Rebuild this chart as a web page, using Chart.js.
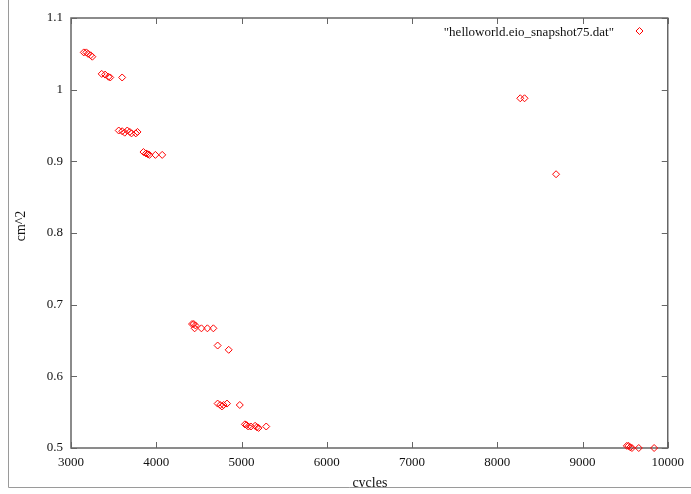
<!DOCTYPE html>
<html>
<head>
<meta charset="utf-8">
<script src="https://cdn.jsdelivr.net/npm/chart.js@4.4.0/dist/chart.umd.min.js"></script>
<style>
html, body { margin: 0; padding: 0; background: #fff; }
#wrap { width: 691px; height: 494px; }
</style>
</head>
<body>
<div id="wrap"><canvas id="chart" width="691" height="494"></canvas></div>
<script>
// Data
const seriesLabel = '"helloworld.eio_snapshot75.dat"';
const cycles = [
    3150, 3180, 3200, 3230, 3250,
    3360, 3400, 3440, 3460, 3600,
    3560, 3600, 3630, 3660, 3690, 3710, 3760, 3780,
    3850, 3880, 3900, 3920, 3990, 4070,
    4420, 4440, 4460, 4450, 4530, 4600, 4670,
    4720, 4850,
    4720, 4750, 4770, 4790, 4830, 4980,
    5040, 5060, 5080, 5110, 5160, 5180, 5200, 5290,
    8270, 8320, 8690,
    9520, 9540, 9560, 9580, 9660, 9840
];
const area = [
    1.052, 1.052, 1.050, 1.048, 1.046,
    1.022, 1.021, 1.018, 1.017, 1.017,
    0.943, 0.942, 0.940, 0.943, 0.941, 0.939, 0.939, 0.941,
    0.913, 0.911, 0.910, 0.909, 0.909, 0.909,
    0.673, 0.673, 0.671, 0.667, 0.667, 0.667, 0.667,
    0.643, 0.637,
    0.562, 0.560, 0.558, 0.560, 0.562, 0.560,
    0.533, 0.532, 0.530, 0.530, 0.531, 0.529, 0.528, 0.530,
    0.988, 0.988, 0.882,
    0.503, 0.503, 0.501, 0.500, 0.500, 0.500
];
const xTicks = [3000, 4000, 5000, 6000, 7000, 8000, 9000, 10000];
const yTicks = [0.5, 0.6, 0.7, 0.8, 0.9, 1.0, 1.1];
const xTitle = 'cycles';
const yTitle = 'cm^2';

const points = cycles.map((c, i) => ({ x: c, y: area[i] }));

const serif = '"Liberation Serif", "DejaVu Serif", serif';
const frameColor = '#666';
const markColor = '#ff0000';

// gnuplot-like frame, inward ticks, titles and legend
const gnuplotFrame = {
    id: 'gnuplotFrame',
    beforeDatasetsDraw(chart) {
        const { ctx, chartArea: a, scales } = chart;
        ctx.save();
        ctx.strokeStyle = frameColor;
        ctx.lineWidth = 1.5;
        ctx.strokeRect(a.left, a.top, a.right - a.left, a.bottom - a.top);
        ctx.lineWidth = 1;
        ctx.beginPath();
        xTicks.forEach(v => {
            const px = Math.round(scales.x.getPixelForValue(v)) + 0.5;
            ctx.moveTo(px, a.bottom); ctx.lineTo(px, a.bottom - 6);
            ctx.moveTo(px, a.top); ctx.lineTo(px, a.top + 6);
        });
        yTicks.forEach(v => {
            const py = Math.round(scales.y.getPixelForValue(v)) + 0.5;
            ctx.moveTo(a.left, py); ctx.lineTo(a.left + 6, py);
            ctx.moveTo(a.right, py); ctx.lineTo(a.right - 6, py);
        });
        ctx.stroke();
        ctx.restore();
    },
    afterDraw(chart) {
        const { ctx, chartArea: a } = chart;
        ctx.save();
        ctx.fillStyle = '#111';
        ctx.font = '14px ' + serif;
        ctx.textAlign = 'center';
        ctx.textBaseline = 'middle';
        ctx.fillText(xTitle, (a.left + a.right) / 2 + 0.5, 483);

        ctx.save();
        ctx.translate(21, 226);
        ctx.rotate(-Math.PI / 2);
        ctx.fillText(yTitle, 0, 0);
        ctx.restore();

        // legend
        ctx.font = '13px ' + serif;
        ctx.textAlign = 'right';
        ctx.fillText(seriesLabel, 614, 33);
        ctx.strokeStyle = markColor;
        ctx.lineWidth = 1;
        ctx.beginPath();
        ctx.moveTo(639.5, 27.5); ctx.lineTo(643, 31); ctx.lineTo(639.5, 34.5); ctx.lineTo(636, 31);
        ctx.closePath();
        ctx.stroke();

        // outer window border, cuts the bottom of the x title
        ctx.fillStyle = '#fff';
        ctx.fillRect(0, 487.5, 691, 10);
        ctx.strokeStyle = '#9a9a9a';
        ctx.beginPath();
        ctx.moveTo(8.5, 0); ctx.lineTo(8.5, 487.5); ctx.lineTo(691, 487.5);
        ctx.stroke();
        ctx.restore();
    }
};

const chart = new Chart(document.getElementById('chart'), {
    type: 'scatter',
    data: {
        datasets: [{
            label: seriesLabel,
            data: points,
            pointStyle: 'rectRot',
            pointRadius: 3.5,
            pointHoverRadius: 3.5,
            borderColor: markColor,
            backgroundColor: 'rgba(0,0,0,0)',
            borderWidth: 1,
            clip: false
        }]
    },
    options: {
        responsive: false,
        animation: false,
        devicePixelRatio: 1,
        layout: { padding: { top: 18, right: 19, left: 0, bottom: 0 } },
        plugins: {
            legend: { display: false },
            tooltip: { enabled: false }
        },
        scales: {
            x: {
                type: 'linear',
                min: 3000,
                max: 10000,
                afterFit: s => { s.height = 46; },
                afterBuildTicks: s => { s.ticks = xTicks.map(v => ({ value: v })); },
                grid: { display: false, drawTicks: false },
                border: { display: false },
                ticks: {
                    padding: 7,
                    maxRotation: 0,
                    color: '#111',
                    font: { family: serif, size: 13 },
                    callback: v => String(v)
                }
            },
            y: {
                type: 'linear',
                min: 0.5,
                max: 1.1,
                afterFit: s => { s.width = 71; },
                afterBuildTicks: s => { s.ticks = yTicks.map(v => ({ value: v })); },
                grid: { display: false, drawTicks: false },
                border: { display: false },
                ticks: {
                    padding: 8,
                    color: '#111',
                    font: { family: serif, size: 13 },
                    callback: v => String(+v.toFixed(1))
                }
            }
        }
    },
    plugins: [gnuplotFrame]
});
</script>
</body>
</html>
